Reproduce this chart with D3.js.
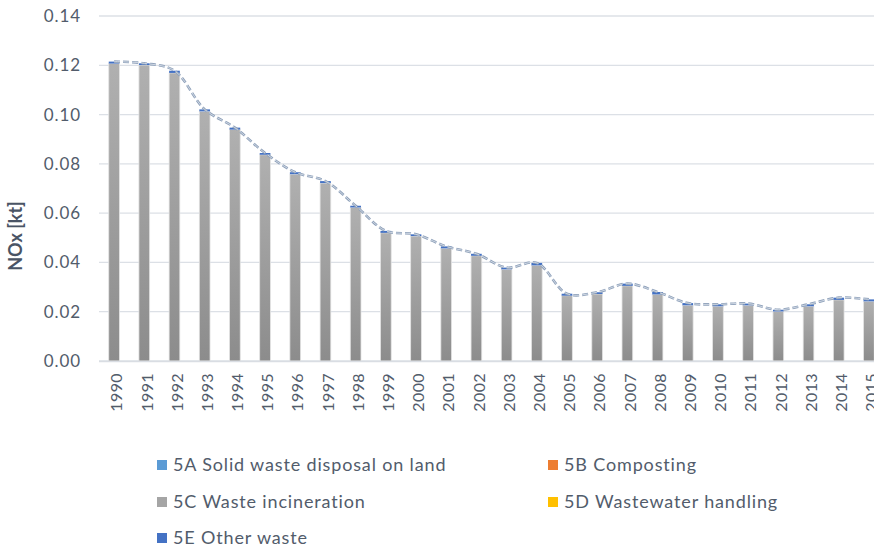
<!DOCTYPE html>
<html><head><meta charset="utf-8">
<script src="https://cdn.jsdelivr.net/npm/d3@7"></script>
<style>
body{margin:0;background:#fff;overflow:hidden;}
svg{display:block;font-family:Lato, "Open Sans", sans-serif;}
</style></head>
<body><svg id="c" width="874" height="552"></svg>
<script>
const years = ["1990","1991","1992","1993","1994","1995","1996","1997","1998","1999","2000","2001","2002","2003","2004","2005","2006","2007","2008","2009","2010","2011","2012","2013","2014","2015"];
const s5A = [0,0,0,0,0,0,0,0,0,0,0,0,0,0,0,0,0,0,0,0,0,0,0,0,0,0];
const s5B = [0,0,0,0,0,0,0,0,0,0,0,0,0,0,0,0,0,0,0,0,0,0,0,0,0,0];
const s5C = [0.1207,0.1201,0.1169,0.1013,0.0939,0.0837,0.0758,0.0722,0.0623,0.0520,0.0507,0.0457,0.0427,0.0372,0.0388,0.0265,0.0272,0.0305,0.0270,0.0226,0.0222,0.0226,0.0201,0.0222,0.0248,0.0242];
const s5D = [0,0,0,0,0,0,0,0,0,0,0,0,0,0,0,0,0,0,0,0,0,0,0,0,0,0];
const s5E = [0.0008,0.0007,0.0009,0.0008,0.0008,0.0007,0.0008,0.0008,0.0007,0.0008,0.0007,0.0008,0.0008,0.0007,0.0010,0.0008,0.0007,0.0009,0.0010,0.0009,0.0008,0.0007,0.0007,0.0008,0.0009,0.0008];
const seriesNames = ["5A Solid waste disposal on land","5B Composting","5C Waste incineration","5D Wastewater handling","5E Other waste"];
const seriesColors = ["#5B9BD5","#ED7D31","#A5A5A5","#FFC000","#4472C4"];
const yTicks = [0,0.02,0.04,0.06,0.08,0.10,0.12,0.14];
const yTitle = "NOx [kt]";

const keys = ["A","B","C","D","E"];
const arrs = {A:s5A,B:s5B,C:s5C,D:s5D,E:s5E};
const rows = years.map((y,i)=>{const r={year:y}; keys.forEach(k=>r[k]=arrs[k][i]); return r;});
const totals = rows.map(r=>keys.reduce((a,k)=>a+r[k],0));

const svg = d3.select("#c");
const L=99, R=884, T=16, B=361;
const x = d3.scaleBand().domain(years).range([L,R]).paddingInner(0.645).paddingOuter(0.3225);
const y = d3.scaleLinear().domain([0,0.14]).range([B,T]);
const txt = "#525C6B";

const defs = svg.append("defs");
const g1 = defs.append("linearGradient").attr("id","gC").attr("x1",0).attr("y1",0).attr("x2",0).attr("y2",1);
g1.append("stop").attr("offset","0%").attr("stop-color","#B0B0B0");
g1.append("stop").attr("offset","100%").attr("stop-color","#8C8C8C");

// gridlines
svg.append("g").selectAll("line").data(yTicks).join("line")
  .attr("x1",L).attr("x2",874).attr("y1",d=>y(d)).attr("y2",d=>y(d))
  .attr("stroke","#DCE0E6").attr("stroke-width",1.3);

// y axis labels
const yAxis = d3.axisLeft(y).tickValues(yTicks).tickFormat(d3.format(".2f")).tickSize(0).tickPadding(0);
const ya = svg.append("g").attr("transform",`translate(81,0)`).call(yAxis);
ya.select(".domain").remove();
ya.selectAll("text").attr("fill",txt).attr("font-size",17).attr("letter-spacing","0.9px").attr("font-family","Lato, sans-serif");

// stacked bars
const stack = d3.stack().keys(keys)(rows);
const fills = {A:"#5B9BD5",B:"#ED7D31",C:"url(#gC)",D:"#FFC000",E:"#4472C4"};
stack.forEach(layer=>{
  svg.append("g").selectAll("rect").data(layer.filter(d=>d[1]-d[0]>0)).join("rect")
    .attr("x",d=>x(d.data.year)).attr("width",x.bandwidth())
    .attr("y",d=>y(d[1])).attr("height",d=>y(d[0])-y(d[1]))
    .attr("fill",fills[layer.key])
    .attr("stroke",layer.key==="C"?"#E4E4E4":"none").attr("stroke-width",0.8);
});

// x axis
const xa = svg.append("g").attr("transform",`translate(0,${B})`).call(d3.axisBottom(x).tickSize(0).tickPadding(0));
xa.select(".domain").remove();
svg.append("line").attr("x1",L).attr("x2",874).attr("y1",B+0.5).attr("y2",B+0.5).attr("stroke","#D9DDE3").attr("stroke-width",1.5);
xa.selectAll("text").attr("fill",txt).attr("font-size",16).attr("letter-spacing","0.4px").attr("font-family","Lato, sans-serif")
  .attr("transform","rotate(-90)").attr("text-anchor","end").attr("x",-12).attr("y",0).attr("dy","0.42em").attr("dx",0);
xa.selectAll(".tick").attr("transform",d=>`translate(${x(d)+x.bandwidth()/2+1.5},0)`);

// total dashed smooth line
const line = d3.line().x((d,i)=>x(years[i])+x.bandwidth()/2).y(d=>y(d)).curve(d3.curveCatmullRom.alpha(0.5));
svg.append("path").attr("d",line(totals)).attr("fill","none").attr("stroke","#8FA1BA").attr("stroke-width",2.6).attr("stroke-dasharray","6,3");
svg.append("path").attr("d",line(totals)).attr("fill","none").attr("stroke","#DDE3EC").attr("stroke-width",0.8).attr("stroke-dasharray","6,3");

// y title
svg.append("text").attr("transform","translate(16,236) rotate(-90)").attr("text-anchor","middle").attr("dy","0.35em")
  .attr("font-size",18).attr("font-weight","bold").attr("fill","#4A5465").attr("font-family","Lato, sans-serif").text(yTitle);

// legend
const legPos = [[157,465],[548,465],[157,502],[548,502],[157,538]];
const lg = svg.append("g");
seriesNames.forEach((n,i)=>{
  const [lx,ly]=legPos[i];
  lg.append("rect").attr("x",lx).attr("y",ly-5).attr("width",10).attr("height",10).attr("fill",seriesColors[i]);
  lg.append("text").attr("x",lx+16).attr("y",ly).attr("dy","0.36em").attr("font-size",18).attr("letter-spacing","0.85px").attr("fill",txt).attr("font-family","Lato, sans-serif").text(n);
});
</script></body></html>
